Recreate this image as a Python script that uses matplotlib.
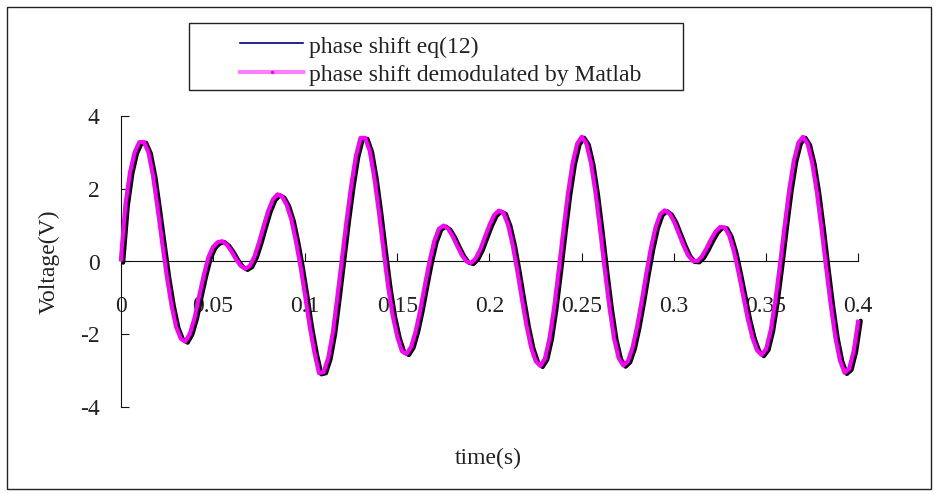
import numpy as np
import matplotlib
matplotlib.use("Agg")
import matplotlib.pyplot as plt
from matplotlib.lines import Line2D
from matplotlib.patches import Rectangle

plt.rcParams['font.family'] = ['Liberation Serif', 'DejaVu Serif']
plt.rcParams['axes.unicode_minus'] = False

# demodulated phase shift (V), every 2.5 ms
voltage = [
    0.00, 1.55, 2.45, 3.00, 3.28,
    3.29, 3.00, 2.35, 1.45, 0.50, -0.42, -1.20, -1.80, -2.12,
    -2.20,
    -1.98, -1.55, -0.95, -0.38, 0.12, 0.40, 0.53,
    0.56,
    0.46, 0.28, 0.06, -0.12, -0.20,
    -0.12, 0.14, 0.53, 0.98, 1.40, 1.71, 1.85,
    1.78, 1.55, 1.15, 0.55, -0.15, -0.95, -1.80, -2.50, -3.07,
    -3.04, -2.65, -1.95, -0.95, 0.10, 1.15, 2.10, 2.90, 3.40,
    3.40, 3.04, 2.30, 1.35, 0.30, -0.70, -1.50, -2.08, -2.47,
    -2.54, -2.34, -1.90, -1.31, -0.63, 0.02, 0.56, 0.90,
    0.99, 0.90, 0.69, 0.42, 0.17, 0.00,
    -0.04, 0.09, 0.34, 0.68, 1.01, 1.28, 1.40,
    1.34, 1.01, 0.46, -0.25, -1.02, -1.76, -2.36, -2.74,
    -2.87, -2.67, -2.11, -1.27, -0.24, 0.85, 1.87, 2.70, 3.24, 3.43,
    3.24, 2.70, 1.87, 0.85, -0.24, -1.26, -2.11, -2.66, -2.86,
    -2.74, -2.37, -1.79, -1.09, -0.33, 0.37, 0.94, 1.30, 1.41,
    1.32, 1.10, 0.78, 0.46, 0.18, 0.02,
    0.01, 0.13, 0.35, 0.60, 0.82, 0.95,
    0.94, 0.71, 0.28, -0.30, -0.94, -1.57, -2.09, -2.44, -2.57,
    -2.40, -1.88, -1.07, -0.08, 0.98, 1.97, 2.77, 3.27, 3.43,
    3.23, 2.70, 1.90, 0.91, -0.16, -1.19, -2.08, -2.72, -3.06, -2.95, -2.45, -1.60,
]
dt = 0.0025
time = np.arange(len(voltage)) * dt
lag = 0.0013   # eq(12) curve runs a hair behind the demodulated one

xticks = [0, 0.05, 0.1, 0.15, 0.2, 0.25, 0.3, 0.35, 0.4]
xtick_labels = ['0', '0.05', '0.1', '0.15', '0.2', '0.25', '0.3', '0.35', '0.4']
yticks = [-4, -2, 0, 2, 4]
ytick_labels = ['-4', '-2', '0', '2', '4']
legend_labels = ['phase shift eq(12)', 'phase shift demodulated by Matlab']

fs = 17
W, H = 939, 494
fig = plt.figure(figsize=(W / 100, H / 100), dpi=100)
ax = fig.add_axes([120.7 / W, 1 - 407 / H, 737.6 / W, 291 / H])

ax.plot(time + lag, np.array(voltage) - 0.03, color='#000000', lw=3.1, zorder=2,
        clip_on=False, solid_joinstyle='round', solid_capstyle='round')
ax.plot(time, voltage, color='#ff00ff', lw=2.9, zorder=3, clip_on=False,
        solid_joinstyle='round', solid_capstyle='butt')

ax.set_xlim(0, 0.4)
ax.set_ylim(-4, 4)
ax.set_xticks(xticks)
ax.set_xticklabels(xtick_labels)
ax.set_yticks(yticks)
ax.set_yticklabels(ytick_labels)

for s in ['top', 'right']:
    ax.spines[s].set_visible(False)
ax.spines['bottom'].set_position(('data', 0))
for s in ['left', 'bottom']:
    ax.spines[s].set_linewidth(0.8)
    ax.spines[s].set_color('#111111')

ax.tick_params(axis='x', direction='in', length=6, width=0.8, pad=25,
               labelsize=fs, colors='#111111', labelcolor='#222222')
ax.tick_params(axis='y', direction='in', length=5.5, width=0.8, pad=15,
               labelsize=fs, colors='#111111', labelcolor='#222222')

ax.set_xlabel('time(s)', fontsize=fs, color='#222222')
ax.set_ylabel('Voltage(V)', fontsize=fs, color='#222222')
ax.xaxis.set_label_coords((488 - 120.7) / 737.6, (407 - 458) / 291)
ax.xaxis.label.set_va('center')
ax.yaxis.set_label_coords((49 - 120.7) / 737.6, 0.5)
ax.yaxis.label.set_va('center')

# outer chart frame
fig.patches.append(Rectangle((7 / W, 5 / H), 924 / W, 482 / H,
                             transform=fig.transFigure, fill=False,
                             lw=1.0, ec='#222222'))

# legend box, drawn by hand to get Excel's padding
fig.patches.append(Rectangle((188.7 / W, 1 - 90 / H), 494.6 / W, 66.7 / H,
                             transform=fig.transFigure, fill=False,
                             lw=1.0, ec='#222222'))
x0, x1 = 240 / W, 303 / W
fig.lines.append(Line2D([x0, x1], [1 - 43.3 / H] * 2, transform=fig.transFigure,
                        color='#000080', lw=1.2))
fig.lines.append(Line2D([x0, x1], [1 - 71.7 / H] * 2, transform=fig.transFigure,
                        color='#ff80ff', lw=3.0))
fig.lines.append(Line2D([(x0 + x1) / 2], [1 - 71.7 / H], transform=fig.transFigure,
                        color='#ff00ff', marker='o', markersize=1.5, lw=0))
fig.text(309 / W, 1 - 47.3 / H, legend_labels[0], fontsize=fs, va='center',
         color='#222222')
fig.text(309 / W, 1 - 75.7 / H, legend_labels[1], fontsize=fs, va='center',
         color='#222222')

fig.savefig('out.png', dpi=100)
